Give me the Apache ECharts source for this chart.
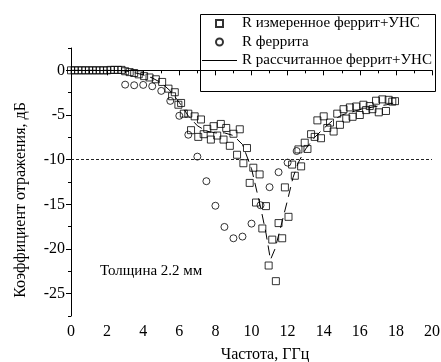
<!DOCTYPE html>
<html>
<head>
<meta charset="utf-8">
<script src="https://cdn.jsdelivr.net/npm/echarts@6/dist/echarts.min.js"></script>
<style>
  html, body { margin: 0; padding: 0; background: #fff; }
  #chart { width: 441px; height: 362px; }
</style>
</head>
<body>
<div id="chart"></div>
<script>
// R измеренное феррит+УНС (квадраты)
const measFreq = [0, 0.2, 0.4, 0.6, 0.8, 1.0, 1.2, 1.4, 1.6, 1.8, 2.0, 2.2, 2.4, 2.6, 2.8,
  3.0, 3.25, 3.5, 3.75, 4.05, 4.35, 4.7, 5.05, 5.4, 5.6, 5.75, 5.95, 6.1, 6.25, 6.5, 6.65,
  6.85, 7.05, 7.2, 7.35, 7.55, 7.75, 7.9, 8.1, 8.3, 8.45, 8.6, 8.8, 9.0, 9.2, 9.35, 9.55,
  9.75, 9.9, 10.1, 10.25, 10.45, 10.6, 10.8, 10.95, 11.15, 11.35, 11.5, 11.7, 11.85, 12.05,
  12.25, 12.4, 12.6, 12.75, 12.95, 13.1, 13.3, 13.5, 13.65, 13.85, 14.0, 14.2, 14.35, 14.55,
  14.75, 14.9, 15.1, 15.25, 15.45, 15.6, 15.8, 16.0, 16.2, 16.35, 16.55, 16.7, 16.9, 17.05,
  17.25, 17.45, 17.6, 17.8, 17.95]
const measR = [0, 0, 0, 0, 0, 0, 0, 0, 0, 0, 0, 0.05, 0.05, 0.05, 0.05,
  -0.1, -0.2, -0.3, -0.45, -0.65, -0.8, -1.0, -1.3, -2.05, -2.9, -2.45, -3.85, -3.65, -4.85, -4.85, -6.7,
  -5.15, -7.45, -5.5, -7.15, -6.55, -7.75, -6.25, -7.3, -6.0, -7.75, -6.45, -8.45, -7.1, -9.45, -6.6, -10.4,
  -8.7, -12.6, -10.9, -14.8, -11.65, -17.7, -15.2, -21.85, -18.95, -23.6, -17.1, -18.8, -13.1, -16.4,
  -10.55, -11.8, -8.85, -10.75, -8.1, -8.8, -7.15, -7.45, -5.6, -7.6, -5.15, -6.45, -5.85, -6.85,
  -4.85, -6.1, -4.35, -5.4, -4.15, -5.2, -4.05, -5.0, -3.85, -4.45, -4.0, -4.35, -3.4, -4.7,
  -3.25, -4.55, -3.3, -3.5, -3.45]

// R феррита (кружки)
const ferrFreq = [3.0, 3.5, 4.0, 4.5, 5.0, 5.5, 6.0, 6.5, 7.0, 7.5, 8.0, 8.5, 9.0, 9.5, 10.0, 10.5, 11.0, 11.5, 12.0, 12.5]
const ferrR = [-1.6, -1.67, -1.63, -1.78, -2.3, -3.42, -5.09, -7.21, -9.66, -12.41, -15.16, -17.53, -18.8, -18.61, -17.16, -15.1, -13.08, -11.4, -10.33, -9.03]

// R рассчитанное феррит+УНС (линия)
const calcFreq = [0, 1, 2, 3, 3.5, 4, 4.5, 5, 5.5, 6, 6.5, 7, 7.5, 8, 8.5, 9, 9.5, 10, 10.5, 10.8,
  11.05, 11.3, 11.6, 12.0, 12.3, 12.6, 13.0, 13.5, 14, 14.5, 15, 15.5, 16, 16.5, 17, 17.5, 18]
const calcR = [0, 0, 0, -0.05, -0.25, -0.5, -0.85, -1.4, -2.3, -3.6, -5.1, -6.2, -6.8, -7.0, -7.0, -7.3, -8.3, -11.0, -15.3, -18.2,
  -21.2, -20.0, -17.7, -14.5, -12.0, -10.3, -8.8, -7.5, -6.5, -5.6, -5.0, -4.7, -4.4, -4.2, -4.0, -3.85, -3.6]

const refLevel = -10
const yLabels = [-25, -20, -15, -10, -5, 0]
const seriesNames = ['R измеренное феррит+УНС', 'R феррита', 'R рассчитанное феррит+УНС']

const zip = (xs, ys) => xs.map((x, i) => [x, ys[i]])
const FONT = 'Liberation Serif'

const option = {
  backgroundColor: '#fff',
  animation: false,
  grid: { left: 71, right: 9, top: 48, bottom: 46, outerBoundsMode: 'none' },
  graphic: [
    {
      type: 'rect', left: 198, top: 12, z: 0,
      shape: { width: 235, height: 77 },
      style: { fill: 'none', stroke: '#000', lineWidth: 1 }
    },
    {
      type: 'text', left: 100, top: 264,
      style: { text: 'Толщина 2.2 мм', font: '15px "Liberation Serif"', fill: '#000' }
    }
  ],
  legend: {
    orient: 'vertical',
    left: 202,
    top: 16,
    padding: 0,
    itemWidth: 35,
    itemHeight: 7,
    itemGap: 3.5,
    textStyle: { fontFamily: FONT, fontSize: 15, color: '#000' },
    data: [
      { name: seriesNames[0], icon: 'path://M0,0H10V10H0Z' },
      { name: seriesNames[1], icon: 'circle' },
      { name: seriesNames[2], icon: 'path://M0,0H35V1H0Z', itemStyle: { color: '#000', borderWidth: 0 } }
    ]
  },
  xAxis: {
    type: 'value',
    min: 0, max: 20, interval: 2,
    name: 'Частота, ГГц',
    nameLocation: 'middle',
    nameGap: 31,
    nameTextStyle: { fontFamily: FONT, fontSize: 16, color: '#000', padding: [0, 0, 0, 27] },
    axisLine: { lineStyle: { color: '#000', width: 1 } },
    axisTick: { length: 5, lineStyle: { color: '#000' } },
    minorTick: { show: true, splitNumber: 2, length: 3, lineStyle: { color: '#000' } },
    splitLine: { show: false },
    axisLabel: { fontFamily: FONT, fontSize: 16, color: '#000', margin: 8 }
  },
  yAxis: [
    {
      type: 'value',
      min: -27.5, max: 2.5, interval: 2.5,
      name: 'Коэффициент отражения, дБ',
      nameLocation: 'middle',
      nameGap: 42,
      nameTextStyle: { fontFamily: FONT, fontSize: 16, color: '#000', padding: [0, 36, 0, 0] },
      axisLine: { show: true, lineStyle: { color: '#000', width: 1 } },
      axisTick: { show: true, length: 5, customValues: yLabels, lineStyle: { color: '#000' } },
      splitLine: { show: false },
      axisLabel: { fontFamily: FONT, fontSize: 16, color: '#000', margin: 6, customValues: yLabels }
    },
    {
      // короткие промежуточные риски
      type: 'value',
      position: 'left',
      min: -27.5, max: 2.5, interval: 2.5,
      axisLine: { show: false },
      axisTick: { show: true, length: 3, lineStyle: { color: '#000' } },
      axisLabel: { show: false },
      splitLine: { show: false }
    }
  ],
  series: [
    {
      name: seriesNames[0],
      type: 'scatter',
      symbol: 'rect',
      symbolSize: 7,
      itemStyle: { color: 'transparent', borderColor: '#000', borderWidth: 1 },
      data: zip(measFreq, measR),
      markLine: {
        silent: true,
        symbol: 'none',
        label: { show: false },
        lineStyle: { color: '#222', width: 1, type: [3, 2] },
        data: [{ yAxis: refLevel }]
      }
    },
    {
      name: seriesNames[1],
      type: 'scatter',
      symbol: 'circle',
      symbolSize: 7,
      itemStyle: { color: 'transparent', borderColor: '#000', borderWidth: 1 },
      data: zip(ferrFreq, ferrR)
    },
    {
      name: seriesNames[2],
      type: 'line',
      symbol: 'none',
      lineStyle: { color: '#000', width: 1, type: [10, 6] },
      itemStyle: { color: '#000' },
      data: zip(calcFreq, calcR)
    }
  ]
}

const chart = echarts.init(document.getElementById('chart'))
chart.setOption(option)
</script>
</body>
</html>
